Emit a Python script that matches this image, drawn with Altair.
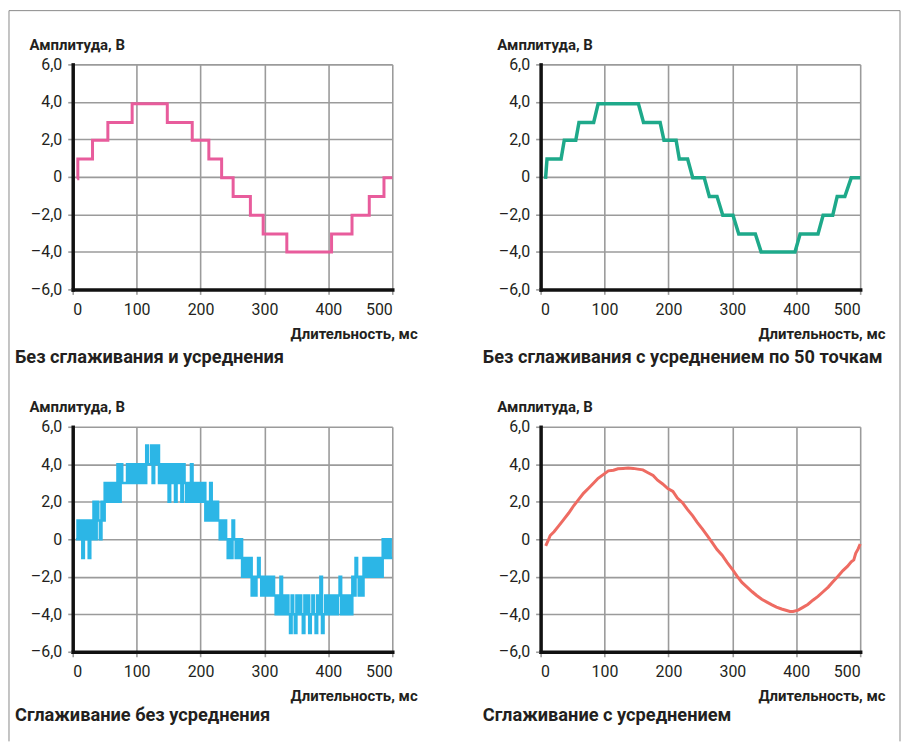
import altair as alt
import pandas as pd

# ---------------- data ----------------
# Panel 1: no smoothing, no averaging (step changes)
p1_t = [7, 8, 31, 55, 93, 148, 187, 213, 233, 251, 278, 298, 335, 405, 437, 464, 487, 500]
p1_v = [-0.1, 0.95, 1.95, 2.9, 3.9, 2.9, 1.95, 0.95, -0.05, -1.05, -2.05, -3.05, -4.0,
        -3.05, -2.05, -1.05, -0.05, -0.05]

# Panel 2: no smoothing, averaging over 50 points (sloped steps)
p2_t = [7.7, 10, 32, 37, 55, 60, 83, 90, 153, 161, 187, 193, 212, 217, 230, 238, 256, 264,
        276, 285, 301, 310, 336, 345, 398, 406, 434, 442, 457, 464, 476, 486, 500]
p2_v = [-0.1, 0.95, 0.95, 1.95, 1.95, 2.9, 2.9, 3.9, 3.9, 2.9, 2.9, 1.95, 1.95, 0.95, 0.95,
        -0.05, -0.05, -1.05, -1.05, -2.05, -2.05, -3.05, -3.05, -4.0, -4.0, -3.05, -3.05,
        -2.05, -2.05, -1.05, -1.05, -0.05, -0.05]

# Panel 3: smoothing without averaging (noisy), one sample every 2.5 ms from 5 ms
p3_start = 5.0
p3_step = 2.5
p3_v = [
    0, 1, 0, 1, -1, 1, 0, 1, -1, 1, 0, 2, 0, 2, 1, 0, 2, 1, 3, 2,
    3, 2, 3, 2, 3, 2, 4, 2, 4, 3, 3, 3, 4, 3, 4, 3, 4, 3, 4, 3,
    4, 3, 4, 3, 5, 4, 4, 5, 3, 5, 4, 5, 3, 4, 3, 4, 3, 4, 2, 4,
    3, 4, 2, 4, 3, 4, 2, 4, 3, 2, 3, 2, 4, 2, 3, 2, 3, 2, 3, 2,
    3, 1, 2, 1, 3, 1, 2, 1, 2, 1, 0, 1, 0, 1, 0, -1, 0, -1, 1, 0,
    -1, 0, -1, 0, -2, -1, -2, -1, -2, -1, -3, -2, -3, -2, -1, -2, -3, -2, -3, -2,
    -3, -2, -3, -2, -3, -4, -3, -4, -2, -4, -3, -4, -3, -4, -5, -3, -4, -5, -3, -4,
    -3, -4, -5, -3, -4, -3, -5, -4, -3, -4, -5, -3, -4, -2, -5, -4, -3, -4, -3, -4,
    -3, -4, -3, -4, -3, -2, -4, -3, -4, -3, -4, -3, -4, -2, -3, -1, -2, -3, -2, -3,
    -1, -2, -1, -2, -1, -2, -1, -2, -1, -2, -1, -2, 0, -1, 0, -1, 0, -1, -1,
]
p3_t = [p3_start + p3_step * i for i in range(len(p3_v))]

# Panel 4: smoothing with averaging (slightly jagged)
p4_t = [8, 12, 15, 21, 28, 36, 44, 52, 59, 67, 75, 83, 90, 98, 106, 114, 121, 129, 137, 145,
        152, 160, 168, 176, 183, 191, 199, 207, 214, 222, 230, 238, 245, 253, 261, 268, 276,
        284, 292, 300, 307, 315, 323, 331, 338, 346, 354, 362, 369, 377, 385, 390, 395, 403,
        411, 418, 426, 434, 442, 450, 457, 465, 473, 480, 486, 490, 493, 497, 500]
p4_v = [-0.35, -0.05, 0.2, 0.4, 0.7, 1.05, 1.4, 1.8, 2.1, 2.45, 2.72, 3.0, 3.25, 3.45, 3.65,
        3.68, 3.76, 3.78, 3.8, 3.78, 3.74, 3.7, 3.55, 3.4, 3.15, 2.95, 2.7, 2.55, 2.2, 1.95,
        1.58, 1.25, 0.9, 0.55, 0.18, -0.15, -0.55, -0.85, -1.25, -1.6, -1.95, -2.3, -2.55,
        -2.8, -3.0, -3.2, -3.35, -3.5, -3.62, -3.72, -3.8, -3.85, -3.85, -3.78, -3.62, -3.48,
        -3.25, -3.05, -2.8, -2.55, -2.28, -1.98, -1.67, -1.45, -1.2, -1.1, -0.75, -0.5, -0.25]

titles = ["Без сглаживания и усреднения",
          "Без сглаживания с усреднением по 50 точкам",
          "Сглаживание без усреднения",
          "Сглаживание с усреднением"]
colors = ["#e85c9c", "#1ea98a", "#2cb6e6", "#ee6b62"]

x_ticks = [0, 100, 200, 300, 400, 500]
y_ticks = [-6, -4, -2, 0, 2, 4, 6]

# ---------------- styling ----------------
W, H = 321, 226
FONT = "Roboto, Liberation Sans, sans-serif"
TXT = "#231f20"
GRID = "#9b9b9b"
FRAME = "#8a8a8a"

y_label_expr = ("datum.value == 0 ? '0' : (datum.value < 0 ? '\u2013' : '') + "
                "replace(format(abs(datum.value), '.1f'), '.', ',')")


def make_axes():
    xaxis = alt.Axis(values=x_ticks, format="d", title="Длительность, мс",
                     titleX=346, titleY=49, titleAlign="right", titleBaseline="alphabetic",
                     labelAngle=0, labelPadding=7, labelBaseline="top")
    yaxis = alt.Axis(values=y_ticks, labelExpr=y_label_expr, title="Амплитуда, В",
                     titleAngle=0, titleX=-44, titleY=-15, titleAlign="left",
                     titleBaseline="alphabetic", labelPadding=6)
    return xaxis, yaxis


one = pd.DataFrame({"a": [0]})


def panel(t, v, color, sw, interp, title, sub_gap, frame=False):
    df = pd.DataFrame({"t": t, "v": v})
    xaxis, yaxis = make_axes()
    line = alt.Chart(df).mark_line(color=color, strokeWidth=sw, interpolate=interp,
                                   strokeJoin="miter").encode(
        x=alt.X("t:Q", scale=alt.Scale(domain=[0, 500], nice=False, zero=False), axis=xaxis),
        y=alt.Y("v:Q", scale=alt.Scale(domain=[-6, 6], nice=False), axis=yaxis),
    )
    sub = alt.Chart(one).mark_text(text=title, align="left", baseline="alphabetic",
                                   font=FONT, fontSize=18.3, fontWeight="bold",
                                   color=TXT).encode(x=alt.value(-58),
                                                     y=alt.value(H + sub_gap))
    layers = [line, sub]
    if frame:
        fr = alt.Chart(one)
        layers += [
            fr.mark_rule(color=FRAME, strokeWidth=1).encode(
                x=alt.value(-64), y=alt.value(-54), y2=alt.value(680)),
            fr.mark_rule(color=FRAME, strokeWidth=1).encode(
                x=alt.value(-64), x2=alt.value(831), y=alt.value(-54)),
            fr.mark_rule(color=FRAME, strokeWidth=1).encode(
                x=alt.value(831), y=alt.value(-54), y2=alt.value(680)),
        ]
    return alt.layer(*layers).properties(width=W, height=H)


p1 = panel(p1_t, p1_v, colors[0], 3, "step-after", titles[0], 74, frame=True)
p2 = panel(p2_t, p2_v, colors[1], 3.5, "linear", titles[1], 74)
p3 = panel(p3_t, p3_v, colors[2], 2.5, "step-after", titles[2], 70)
p4 = panel(p4_t, p4_v, colors[3], 3, "linear", titles[3], 70)

chart = alt.concat(p1, p2, p3, p4, columns=2,
                   spacing=alt.RowColnumber(row=138, column=149)).properties(
    bounds="flush", padding=0, background="white"
).configure_view(strokeWidth=0).configure_axis(
    grid=True, gridColor=GRID, gridWidth=1.6,
    domainColor="#111111", domainWidth=3.5, domainCap="square",
    tickColor=GRID, tickWidth=1.6, tickSize=5,
    labelFont=FONT, labelFontSize=16, labelColor=TXT,
    titleFont=FONT, titleFontSize=15, titleFontWeight="bold", titleColor=TXT,
)

chart.save("out.html", embed_options={"renderer": "svg", "actions": False})
